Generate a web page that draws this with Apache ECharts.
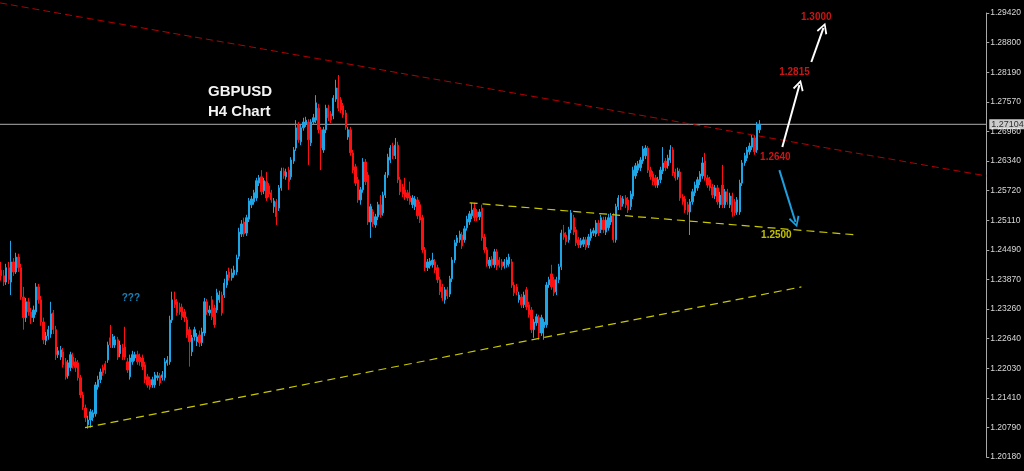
<!DOCTYPE html>
<html><head><meta charset="utf-8">
<script src="https://cdn.jsdelivr.net/npm/echarts@6/dist/echarts.min.js"></script>
<style>html,body{margin:0;padding:0;background:#000;}#c{width:1024px;height:471px;}</style>
</head><body><div id="c"></div>
<script>
// GBPUSD H4 candles: [open, close, low, high]
const candles = [
[1.2407,1.2395,1.2385,1.2424],[1.2395,1.2382,1.2374,1.2407],[1.2382,1.2412,1.2376,1.2420],[1.2412,1.2387,1.2378,1.2424],
[1.2382,1.2424,1.2355,1.2468],[1.2424,1.2403,1.2395,1.2432],[1.2403,1.2434,1.2399,1.2443],[1.2434,1.2412,1.2403,1.2441],
[1.2412,1.2351,1.2345,1.2420],[1.2351,1.2308,1.2283,1.2372],[1.2308,1.2341,1.2299,1.2349],[1.2341,1.2320,1.2312,1.2349],
[1.2320,1.2308,1.2295,1.2328],[1.2308,1.2324,1.2299,1.2333],[1.2320,1.2372,1.2314,1.2380],[1.2372,1.2345,1.2337,1.2378],
[1.2345,1.2299,1.2291,1.2353],[1.2299,1.2262,1.2253,1.2308],[1.2260,1.2270,1.2251,1.2278],[1.2270,1.2283,1.2262,1.2291],
[1.2274,1.2316,1.2266,1.2341],[1.2318,1.2283,1.2274,1.2324],[1.2283,1.2231,1.2220,1.2291],[1.2231,1.2239,1.2224,1.2247],
[1.2226,1.2241,1.2220,1.2249],[1.2237,1.2210,1.2204,1.2245],[1.2216,1.2185,1.2179,1.2224],[1.2187,1.2214,1.2181,1.2220],
[1.2204,1.2231,1.2197,1.2237],[1.2226,1.2208,1.2202,1.2235],[1.2216,1.2204,1.2195,1.2224],[1.2214,1.2183,1.2177,1.2220],
[1.2183,1.2147,1.2141,1.2189],[1.2147,1.2122,1.2116,1.2154],[1.2120,1.2100,1.2091,1.2127],[1.2085,1.2095,1.2077,1.2104],
[1.2095,1.2112,1.2079,1.2118],[1.2100,1.2110,1.2093,1.2116],[1.2108,1.2168,1.2102,1.2174],[1.2164,1.2179,1.2158,1.2187],
[1.2179,1.2195,1.2172,1.2202],[1.2204,1.2193,1.2187,1.2210],[1.2212,1.2199,1.2191,1.2218],[1.2220,1.2251,1.2214,1.2258],
[1.2266,1.2251,1.2245,1.2293],[1.2251,1.2268,1.2245,1.2274],[1.2251,1.2262,1.2245,1.2270],[1.2262,1.2226,1.2220,1.2268],
[1.2233,1.2251,1.2226,1.2260],[1.2245,1.2226,1.2220,1.2253],[1.2247,1.2226,1.2220,1.2289],[1.2216,1.2199,1.2193,1.2224],
[1.2185,1.2224,1.2179,1.2231],[1.2216,1.2231,1.2210,1.2239],[1.2224,1.2231,1.2218,1.2237],[1.2231,1.2216,1.2210,1.2239],
[1.2226,1.2216,1.2208,1.2233],[1.2224,1.2206,1.2199,1.2231],[1.2210,1.2179,1.2172,1.2216],[1.2185,1.2168,1.2162,1.2191],
[1.2179,1.2164,1.2158,1.2185],[1.2168,1.2179,1.2162,1.2185],[1.2168,1.2189,1.2162,1.2195],[1.2183,1.2187,1.2177,1.2195],
[1.2187,1.2172,1.2166,1.2193],[1.2183,1.2189,1.2177,1.2197],[1.2183,1.2216,1.2177,1.2224],[1.2214,1.2220,1.2208,1.2228],
[1.2216,1.2303,1.2210,1.2312],[1.2303,1.2345,1.2297,1.2362],[1.2345,1.2335,1.2328,1.2362],[1.2341,1.2318,1.2312,1.2347],
[1.2330,1.2320,1.2314,1.2339],[1.2330,1.2310,1.2303,1.2337],[1.2320,1.2308,1.2299,1.2326],[1.2303,1.2272,1.2266,1.2310],
[1.2283,1.2258,1.2206,1.2289],[1.2237,1.2266,1.2228,1.2272],[1.2268,1.2283,1.2260,1.2289],[1.2258,1.2268,1.2249,1.2276],
[1.2272,1.2256,1.2247,1.2281],[1.2256,1.2278,1.2249,1.2287],[1.2276,1.2341,1.2270,1.2349],[1.2341,1.2320,1.2314,1.2347],
[1.2318,1.2324,1.2312,1.2333],[1.2345,1.2310,1.2303,1.2353],[1.2328,1.2293,1.2287,1.2335],[1.2324,1.2360,1.2318,1.2368],
[1.2345,1.2355,1.2339,1.2364],[1.2355,1.2318,1.2312,1.2362],[1.2355,1.2380,1.2349,1.2389],[1.2376,1.2397,1.2370,1.2405],
[1.2403,1.2391,1.2385,1.2412],[1.2391,1.2401,1.2385,1.2410],[1.2397,1.2407,1.2391,1.2416],[1.2403,1.2432,1.2397,1.2439],
[1.2436,1.2486,1.2430,1.2495],[1.2482,1.2503,1.2476,1.2511],[1.2507,1.2482,1.2476,1.2516],[1.2484,1.2516,1.2478,1.2522],
[1.2513,1.2551,1.2507,1.2557],[1.2543,1.2555,1.2536,1.2561],[1.2549,1.2568,1.2543,1.2574],[1.2557,1.2593,1.2551,1.2599],
[1.2588,1.2599,1.2582,1.2605],[1.2601,1.2570,1.2563,1.2615],[1.2572,1.2593,1.2565,1.2599],[1.2591,1.2557,1.2551,1.2611],
[1.2582,1.2565,1.2559,1.2588],[1.2568,1.2553,1.2547,1.2574],[1.2539,1.2551,1.2526,1.2557],[1.2549,1.2518,1.2501,1.2555],
[1.2536,1.2578,1.2530,1.2584],[1.2578,1.2613,1.2572,1.2620],[1.2613,1.2603,1.2597,1.2620],[1.2601,1.2611,1.2595,1.2618],
[1.2615,1.2591,1.2574,1.2622],[1.2601,1.2636,1.2595,1.2642],[1.2634,1.2657,1.2628,1.2663],[1.2661,1.2703,1.2655,1.2719],
[1.2709,1.2678,1.2672,1.2715],[1.2674,1.2703,1.2667,1.2709],[1.2703,1.2715,1.2697,1.2724],[1.2711,1.2719,1.2705,1.2726],
[1.2715,1.2678,1.2626,1.2721],[1.2672,1.2715,1.2665,1.2721],[1.2715,1.2724,1.2709,1.2732],[1.2719,1.2755,1.2713,1.2771],
[1.2744,1.2699,1.2692,1.2753],[1.2699,1.2661,1.2615,1.2705],[1.2657,1.2699,1.2651,1.2705],[1.2699,1.2744,1.2692,1.2751],
[1.2744,1.2724,1.2717,1.2751],[1.2732,1.2719,1.2713,1.2738],[1.2728,1.2765,1.2721,1.2771],[1.2763,1.2786,1.2757,1.2803],
[1.2786,1.2744,1.2738,1.2813],[1.2761,1.2740,1.2734,1.2767],[1.2749,1.2730,1.2724,1.2755],[1.2734,1.2705,1.2699,1.2740],
[1.2684,1.2699,1.2678,1.2705],[1.2699,1.2651,1.2645,1.2705],[1.2651,1.2615,1.2609,1.2657],[1.2622,1.2588,1.2582,1.2628],
[1.2595,1.2553,1.2547,1.2601],[1.2553,1.2574,1.2543,1.2580],[1.2574,1.2632,1.2568,1.2640],[1.2632,1.2591,1.2584,1.2638],
[1.2605,1.2507,1.2501,1.2611],[1.2507,1.2539,1.2474,1.2545],[1.2528,1.2503,1.2497,1.2534],[1.2501,1.2518,1.2495,1.2524],
[1.2518,1.2543,1.2511,1.2549],[1.2543,1.2522,1.2516,1.2563],[1.2526,1.2563,1.2520,1.2570],[1.2563,1.2605,1.2557,1.2611],
[1.2605,1.2642,1.2599,1.2649],[1.2636,1.2661,1.2630,1.2667],[1.2665,1.2645,1.2638,1.2672],[1.2645,1.2667,1.2638,1.2682],
[1.2667,1.2595,1.2588,1.2674],[1.2595,1.2570,1.2563,1.2601],[1.2580,1.2565,1.2559,1.2586],[1.2574,1.2559,1.2553,1.2599],
[1.2568,1.2557,1.2551,1.2574],[1.2561,1.2549,1.2543,1.2591],[1.2543,1.2557,1.2536,1.2563],[1.2539,1.2555,1.2532,1.2561],
[1.2553,1.2520,1.2513,1.2559],[1.2543,1.2511,1.2505,1.2549],[1.2516,1.2449,1.2443,1.2522],[1.2449,1.2412,1.2405,1.2455],
[1.2412,1.2424,1.2405,1.2430],[1.2416,1.2426,1.2410,1.2432],[1.2418,1.2428,1.2412,1.2443],[1.2424,1.2407,1.2401,1.2430],
[1.2412,1.2387,1.2380,1.2418],[1.2387,1.2362,1.2355,1.2393],[1.2372,1.2349,1.2343,1.2378],[1.2345,1.2366,1.2337,1.2372],
[1.2366,1.2353,1.2347,1.2372],[1.2357,1.2389,1.2351,1.2395],[1.2389,1.2428,1.2382,1.2434],[1.2428,1.2464,1.2422,1.2470],
[1.2464,1.2474,1.2457,1.2480],[1.2470,1.2482,1.2464,1.2489],[1.2480,1.2457,1.2451,1.2486],[1.2470,1.2493,1.2464,1.2499],
[1.2495,1.2513,1.2489,1.2520],[1.2507,1.2524,1.2501,1.2530],[1.2520,1.2532,1.2513,1.2547],[1.2536,1.2516,1.2509,1.2547],
[1.2528,1.2516,1.2509,1.2534],[1.2518,1.2528,1.2511,1.2534],[1.2536,1.2474,1.2468,1.2543],[1.2476,1.2449,1.2443,1.2482],
[1.2449,1.2420,1.2414,1.2455],[1.2416,1.2428,1.2410,1.2434],[1.2430,1.2418,1.2412,1.2436],[1.2418,1.2445,1.2412,1.2451],
[1.2445,1.2416,1.2407,1.2451],[1.2428,1.2418,1.2412,1.2434],[1.2424,1.2414,1.2407,1.2430],[1.2416,1.2424,1.2410,1.2430],
[1.2418,1.2428,1.2412,1.2434],[1.2420,1.2434,1.2414,1.2441],[1.2424,1.2376,1.2370,1.2430],[1.2376,1.2360,1.2353,1.2382],
[1.2372,1.2362,1.2355,1.2378],[1.2345,1.2355,1.2339,1.2362],[1.2351,1.2335,1.2328,1.2357],[1.2335,1.2355,1.2328,1.2362],
[1.2366,1.2330,1.2324,1.2372],[1.2335,1.2314,1.2308,1.2341],[1.2324,1.2283,1.2276,1.2330],[1.2283,1.2299,1.2266,1.2305],
[1.2297,1.2310,1.2291,1.2316],[1.2308,1.2276,1.2262,1.2314],[1.2276,1.2308,1.2270,1.2314],[1.2287,1.2299,1.2262,1.2305],
[1.2293,1.2376,1.2287,1.2382],[1.2376,1.2387,1.2370,1.2393],[1.2399,1.2372,1.2366,1.2418],[1.2387,1.2360,1.2353,1.2393],
[1.2362,1.2387,1.2355,1.2393],[1.2387,1.2414,1.2380,1.2420],[1.2414,1.2484,1.2407,1.2491],[1.2484,1.2476,1.2470,1.2501],
[1.2480,1.2466,1.2459,1.2486],[1.2470,1.2491,1.2464,1.2497],[1.2491,1.2526,1.2484,1.2532],[1.2516,1.2486,1.2480,1.2522],
[1.2491,1.2464,1.2457,1.2497],[1.2470,1.2459,1.2453,1.2476],[1.2459,1.2468,1.2453,1.2474],[1.2461,1.2470,1.2455,1.2476],
[1.2470,1.2455,1.2449,1.2476],[1.2459,1.2476,1.2453,1.2482],[1.2474,1.2486,1.2468,1.2493],[1.2484,1.2489,1.2478,1.2495],
[1.2482,1.2505,1.2476,1.2511],[1.2505,1.2484,1.2478,1.2511],[1.2491,1.2516,1.2484,1.2522],[1.2511,1.2491,1.2484,1.2518],
[1.2486,1.2511,1.2480,1.2518],[1.2495,1.2516,1.2489,1.2524],[1.2507,1.2520,1.2501,1.2526],[1.2520,1.2470,1.2464,1.2526],
[1.2470,1.2539,1.2464,1.2545],[1.2539,1.2557,1.2532,1.2563],[1.2557,1.2539,1.2532,1.2563],[1.2545,1.2555,1.2539,1.2561],
[1.2557,1.2543,1.2536,1.2563],[1.2553,1.2532,1.2526,1.2559],[1.2539,1.2565,1.2532,1.2572],[1.2561,1.2615,1.2555,1.2622],
[1.2603,1.2624,1.2597,1.2630],[1.2615,1.2628,1.2609,1.2634],[1.2620,1.2636,1.2613,1.2642],[1.2634,1.2659,1.2628,1.2665],
[1.2645,1.2661,1.2638,1.2667],[1.2661,1.2615,1.2609,1.2665],[1.2615,1.2601,1.2595,1.2622],[1.2607,1.2591,1.2584,1.2613],
[1.2599,1.2584,1.2578,1.2605],[1.2584,1.2595,1.2578,1.2601],[1.2595,1.2615,1.2588,1.2622],[1.2613,1.2630,1.2607,1.2663],
[1.2634,1.2620,1.2613,1.2640],[1.2624,1.2640,1.2618,1.2647],[1.2636,1.2657,1.2630,1.2667],[1.2657,1.2609,1.2603,1.2663],
[1.2611,1.2599,1.2593,1.2618],[1.2601,1.2613,1.2595,1.2620],[1.2611,1.2557,1.2551,1.2618],[1.2559,1.2549,1.2543,1.2565],
[1.2555,1.2532,1.2526,1.2561],[1.2543,1.2528,1.2522,1.2549],[1.2528,1.2549,1.2480,1.2555],[1.2549,1.2570,1.2543,1.2576],
[1.2568,1.2584,1.2561,1.2591],[1.2578,1.2595,1.2572,1.2601],[1.2591,1.2607,1.2584,1.2613],[1.2603,1.2630,1.2597,1.2642],
[1.2634,1.2599,1.2593,1.2651],[1.2599,1.2584,1.2578,1.2605],[1.2595,1.2578,1.2572,1.2601],[1.2580,1.2563,1.2557,1.2586],
[1.2561,1.2578,1.2555,1.2584],[1.2578,1.2549,1.2543,1.2584],[1.2543,1.2563,1.2536,1.2570],[1.2584,1.2543,1.2536,1.2626],
[1.2543,1.2570,1.2536,1.2576],[1.2570,1.2549,1.2543,1.2576],[1.2543,1.2561,1.2536,1.2568],[1.2561,1.2528,1.2518,1.2568],
[1.2549,1.2526,1.2520,1.2555],[1.2528,1.2553,1.2522,1.2559],[1.2528,1.2588,1.2522,1.2595],[1.2588,1.2630,1.2582,1.2636],
[1.2630,1.2645,1.2624,1.2651],[1.2640,1.2657,1.2634,1.2663],[1.2653,1.2665,1.2647,1.2672],[1.2663,1.2682,1.2657,1.2688],
[1.2682,1.2653,1.2647,1.2688],[1.2657,1.2709,1.2651,1.2715],[1.2699,1.27104,1.2692,1.2719]
];
const slotCount = 398;            // bars visible across the plot incl. empty right margin
const yTickLabels = ['1.20180','1.20790','1.21410','1.22030','1.22640','1.23260','1.23870','1.24490',
                     '1.25110','1.25720','1.26340','1.26960','1.27570','1.28190','1.28800','1.29420'];
const yMin = 1.2018, yMax = 1.2942, yStep = 0.00616;
const currentPrice = 1.27104;
// trendlines: [[barPos, price],[barPos, price]]
const redResistance = [[0, 1.2963], [398, 1.2603]];
const yellowSupport = [[34.3, 1.2079], [323.4, 1.2372]];
const yellowUpper = [[189.5, 1.2547], [346, 1.2480]];
// arrows: [[from],[to]]
const whiteArrows = [[[315.7, 1.2663], [322.6, 1.2792]], [[327.4, 1.2840], [332.3, 1.2911]]];
const blueArrows = [[[314.5, 1.2615], [321.0, 1.2507]]];
// annotations: [barPos, price, text, color]
const notes = [
  [329.4, 1.2934, '1.3000', '#ff1a1a'],
  [320.6, 1.2819, '1.2815', '#ff1a1a'],
  [312.9, 1.2642, '1.2640', '#ff1a1a'],
  [313.3, 1.2480, '1.2500', '#f0f000'],
  [52.8, 1.2349, '???', '#1ea0e0']
];

const categories = [];
for (let i = 0; i < slotCount; i++) categories.push(String(i));

const chart = echarts.init(document.getElementById('c'), null, {renderer: 'canvas'});
const chevron = 'path://M5,0 L10,9 L8.6,10 L5,3.2 L1.4,10 L0,9 Z';
const FONT = 'Liberation Sans, Arial, sans-serif';

const option = {
  backgroundColor: '#000000',
  animation: false,
  title: {
    text: 'GBPUSD\nH4 Chart', left: 203, top: 77,
    textStyle: {color: '#f4f4f4', fontSize: 15, fontWeight: 'bold', fontFamily: FONT, lineHeight: 20}
  },
  grid: {left: 0, right: 37, top: 13, bottom: 14, containLabel: false},
  xAxis: [
    {type: 'category', data: categories, boundaryGap: true, show: false},
    {type: 'value', min: 0, max: slotCount, show: false}
  ],
  yAxis: {
    type: 'value', position: 'right', min: yMin, max: yMax, interval: yStep,
    splitLine: {show: false},
    axisLine: {show: true, onZero: false, lineStyle: {color: '#a8a8a8', width: 1}},
    axisTick: {show: true, inside: false, length: 3, lineStyle: {color: '#a8a8a8'}},
    axisLabel: {
      color: '#d8d8d8', fontSize: 8.5, fontFamily: FONT, margin: 4,
      formatter: function (v) { const i = Math.round((v - yMin) / yStep); return yTickLabels[i] || ''; }
    }
  },
  series: [
    {
      type: 'candlestick', xAxisIndex: 0, yAxisIndex: 0, data: candles, barWidth: 1.8,
      itemStyle: {color: '#1ea5e6', color0: '#ff1010', borderColor: '#1ea5e6', borderColor0: '#ff1010', borderWidth: 1}
    },
    {type: 'line', xAxisIndex: 1, data: [[0, currentPrice], [slotCount, currentPrice]], symbol: 'none', z: 2,
     lineStyle: {color: '#8a8a8a', width: 1.2}},
    {type: 'scatter', xAxisIndex: 1, data: [[slotCount, currentPrice]], symbolSize: 0, clip: false, z: 10,
     label: {show: true, position: 'right', distance: 3, formatter: currentPrice.toFixed(5),
             backgroundColor: '#ffffff', color: '#000000', fontSize: 9, padding: [1, 2, 0, 2], fontFamily: FONT}},
    {type: 'line', xAxisIndex: 1, data: redResistance, symbol: 'none', clip: false, z: 3,
     lineStyle: {color: '#b40000', width: 1, type: [7, 4]}},
    {type: 'line', xAxisIndex: 1, data: yellowSupport, symbol: 'none', clip: false, z: 3,
     lineStyle: {color: '#c8c800', width: 1.2, type: [8, 5]}},
    {type: 'line', xAxisIndex: 1, data: yellowUpper, symbol: 'none', clip: false, z: 3,
     lineStyle: {color: '#c8c800', width: 1.2, type: [8, 5]}},
    {type: 'lines', coordinateSystem: 'cartesian2d', xAxisIndex: 1, yAxisIndex: 0, z: 4,
     symbol: ['none', chevron], symbolSize: [10, 11],
     lineStyle: {color: '#ffffff', width: 2, opacity: 1},
     data: whiteArrows.map(a => ({coords: a}))},
    {type: 'lines', coordinateSystem: 'cartesian2d', xAxisIndex: 1, yAxisIndex: 0, z: 4,
     symbol: ['none', chevron], symbolSize: [10, 11],
     lineStyle: {color: '#1ea0e0', width: 2, opacity: 1},
     data: blueArrows.map(a => ({coords: a}))},
    {type: 'scatter', xAxisIndex: 1, yAxisIndex: 0, symbolSize: 0, clip: false, z: 5,
     data: notes.map(n => ({value: [n[0], n[1]], label: {color: n[3], formatter: n[2]}})),
     label: {show: true, position: 'inside', fontSize: 10, fontWeight: 'bold', fontFamily: FONT}}
  ]
};
chart.setOption(option);
</script>
</body></html>
